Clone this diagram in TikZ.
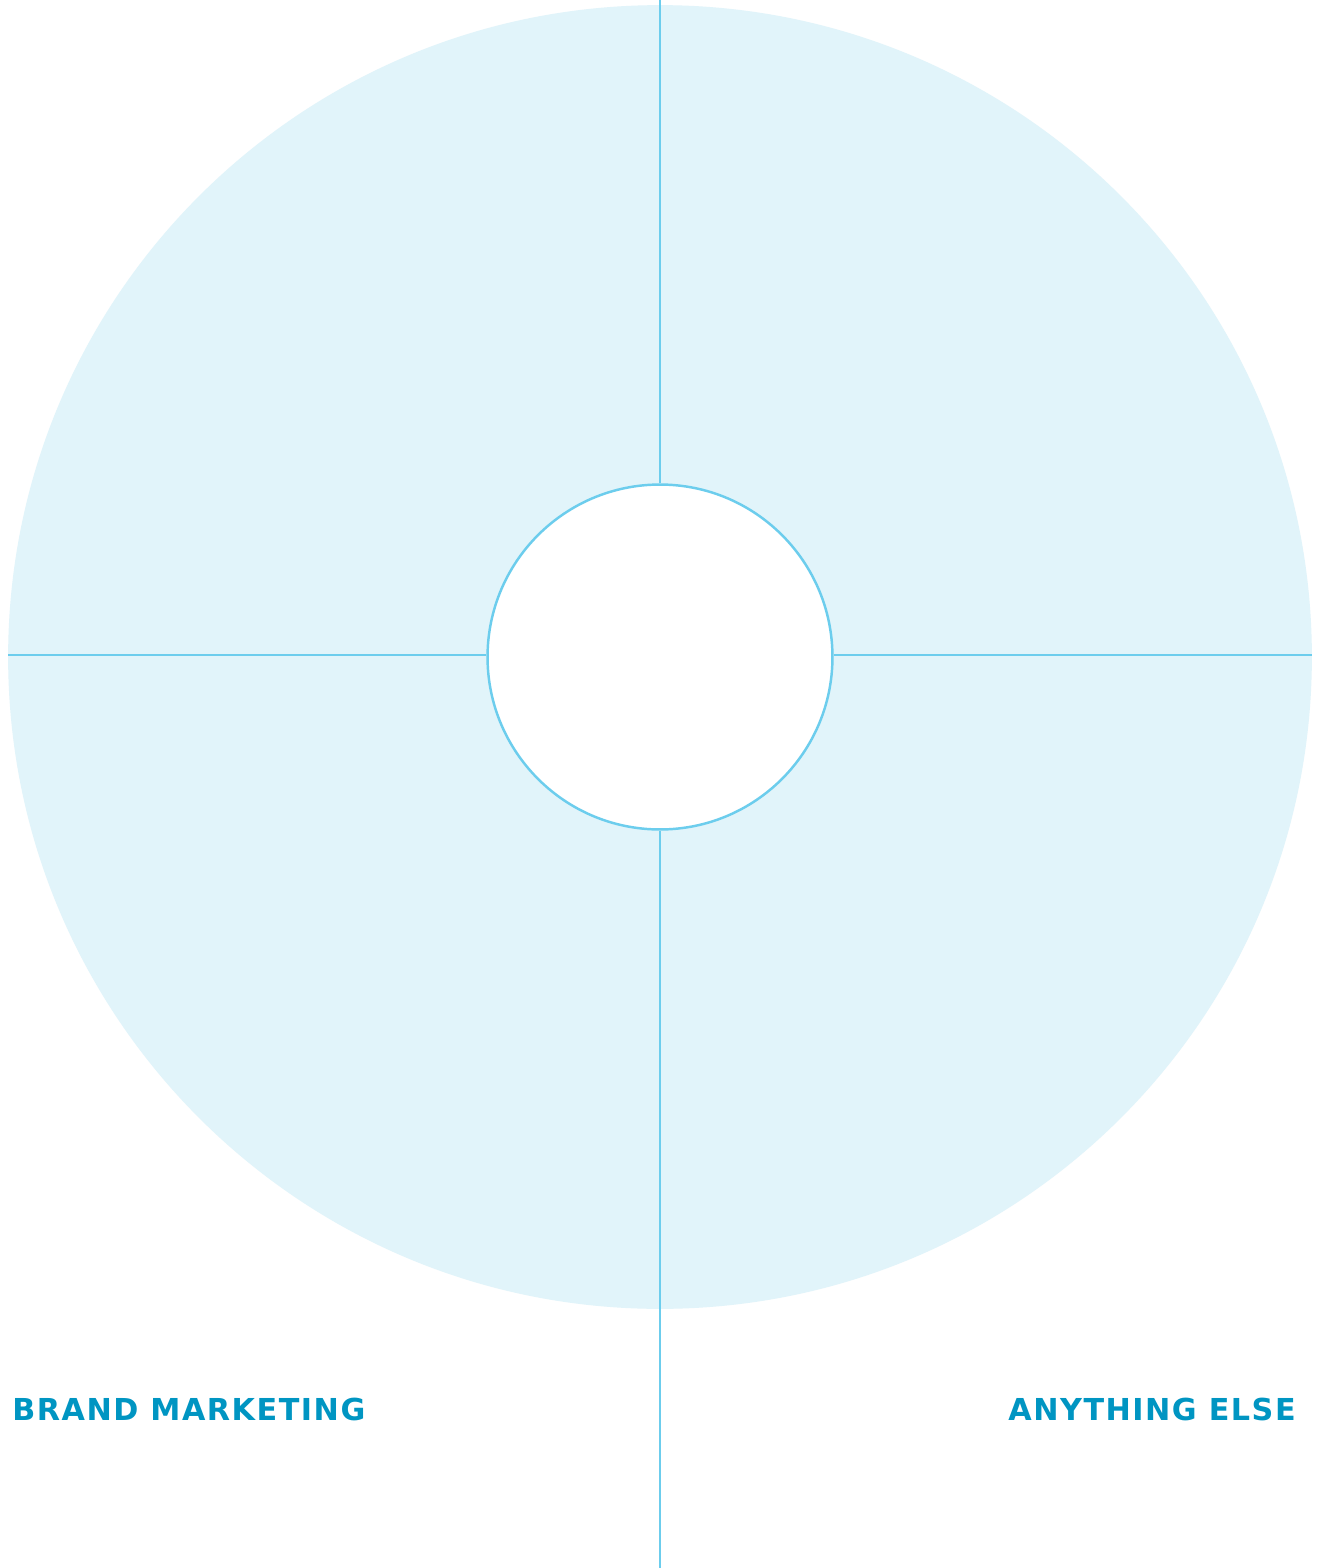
\documentclass[tikz,border=0pt]{standalone}
\usepackage{fontspec}
\setmainfont{DejaVu Sans}
\newfontfamily\tagfont[LetterSpace=5]{DejaVu Sans}
\definecolor{ringfill}{HTML}{E1F4FA}
\definecolor{ringline}{HTML}{6CCDED}
\definecolor{labelblue}{HTML}{0095C2}
\tikzstyle{quadrants}=[%
	every node/.style={
		circle, inner sep = 0, draw=none
	}%
]
\tikzstyle{spoke}=[draw=ringline, line width=1.4pt]
\tikzstyle{tag}=[%
	rectangle, inner sep = 0, text=labelblue, font=\tagfont\fontsize{17.2}{20}\selectfont\bfseries
]

\begin{document}
\begin{tikzpicture}[x=0.02cm, y=-0.02cm, quadrants]
	\useasboundingbox[fill=white] (0,0) rectangle (1317,1568);

	\node[fill=ringfill, minimum size=26.08cm] (disc) at (660,657) {};
	\node[fill=white, spoke, minimum size=6.9cm] (hub) at (660,657) {};

	\coordinate (top) at (660,0);
	\coordinate (bottom) at (660,1568);
	\coordinate (left) at (8,655);
	\coordinate (right) at (1312,655);

	\draw[spoke] (hub.north) -- (top);
	\draw[spoke] (hub.south) -- (bottom);
	\draw[spoke] (hub.west |- left) -- (left);
	\draw[spoke] (hub.east |- right) -- (right);

	\node[tag, anchor=base west] (brand) at (12,1420) {BRAND MARKETING};
	\node[tag, anchor=base east] (else) at (1296,1420) {ANYTHING ELSE};
\end{tikzpicture}
\end{document}
